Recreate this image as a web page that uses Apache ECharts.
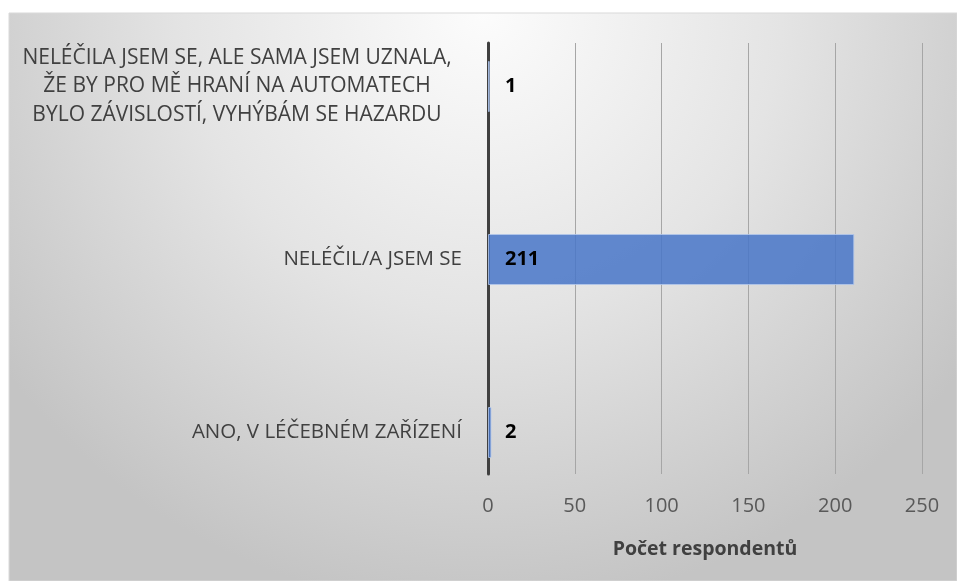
<!DOCTYPE html>
<html>
<head>
<meta charset="utf-8">
<script src="https://cdn.jsdelivr.net/npm/echarts@6/dist/echarts.min.js"></script>
<style>
  html, body { margin: 0; padding: 0; background: #fff; }
  #chart { width: 957px; height: 581px; }
</style>
</head>
<body>
<div id="chart"></div>
<script>
// categories bottom -> top
const categories = [
    'ANO, V LÉČEBNÉM ZAŘÍZENÍ',
    'NELÉČIL/A JSEM SE',
    'NELÉČILA JSEM SE, ALE SAMA JSEM UZNALA,\nŽE BY PRO MĚ HRANÍ NA AUTOMATECH\nBYLO ZÁVISLOSTÍ, VYHÝBÁM SE HAZARDU'
];
const counts = [2, 211, 1];
const xTicks = [0, 50, 100, 150, 200, 250];

const chart = echarts.init(document.getElementById('chart'));

const xMin = xTicks[0];
const xMax = xTicks[xTicks.length - 1];

chart.setOption({
    backgroundColor: '#fff',
    textStyle: { fontFamily: '"Open Sans", sans-serif' },
    graphic: [{
        type: 'rect', z: -10, silent: true,
        shape: { x: 9, y: 13, width: 948, height: 568 },
        style: {
            fill: {
                type: 'radial', x: 0.5, y: 0, r: 1.05,
                colorStops: [
                    { offset: 0, color: '#fcfcfc' },
                    { offset: 0.5, color: '#e4e4e4' },
                    { offset: 1, color: '#c4c4c4' }
                ]
            },
            stroke: '#d9d9d9', lineWidth: 1
        }
    }],
    grid: [
        // gridlines + axis line + tick labels
        { left: 488, right: 35, top: 43, bottom: 107 },
        // bars + category labels (bands run past the drawn axis, like the original)
        { left: 488, right: 35, top: -2, bottom: 62 }
    ],
    xAxis: [{
        gridIndex: 0, type: 'value', min: xMin, max: xMax, interval: 50,
        axisLine: { show: false }, axisTick: { show: false },
        axisLabel: { color: '#595959', fontSize: 20, margin: 22 },
        splitLine: { lineStyle: { color: '#a6a6a6', width: 1 } },
        name: 'Počet respondentů', nameLocation: 'middle', nameGap: 65,
        nameTextStyle: { color: '#404040', fontSize: 19.5, fontWeight: 'bold' }
    }, {
        gridIndex: 1, type: 'value', min: xMin, max: xMax, interval: 50, show: false
    }],
    yAxis: [{
        gridIndex: 0, type: 'category', data: categories,
        axisLine: { show: true, lineStyle: { color: '#404040', width: 3 } },
        axisTick: { show: false }, axisLabel: { show: false }, splitLine: { show: false }
    }, {
        gridIndex: 1, type: 'category', data: categories,
        axisLine: { show: false }, axisTick: { show: false }, splitLine: { show: false },
        axisLabel: {
            align: 'right', margin: 26,
            formatter: v => v.indexOf('\n') >= 0
                ? v.split('\n').map(l => '{m|' + l + '}').join('\n')
                : '{s|' + v + '}',
            rich: {
                m: { color: '#404040', fontSize: 21, lineHeight: 28.5, width: 450, align: 'center' },
                s: { color: '#404040', fontSize: 20.5, lineHeight: 28 }
            }
        }
    }],
    series: [{
        type: 'bar', xAxisIndex: 1, yAxisIndex: 1, data: counts, barWidth: 51,
        itemStyle: { color: 'rgba(72,118,200,0.85)', borderColor: 'rgba(180,200,235,0.8)', borderWidth: 1 },
        label: { show: true, position: 'insideLeft', distance: 17, color: '#000', fontWeight: 'bold', fontSize: 20 }
    }]
});
</script>
</body>
</html>
